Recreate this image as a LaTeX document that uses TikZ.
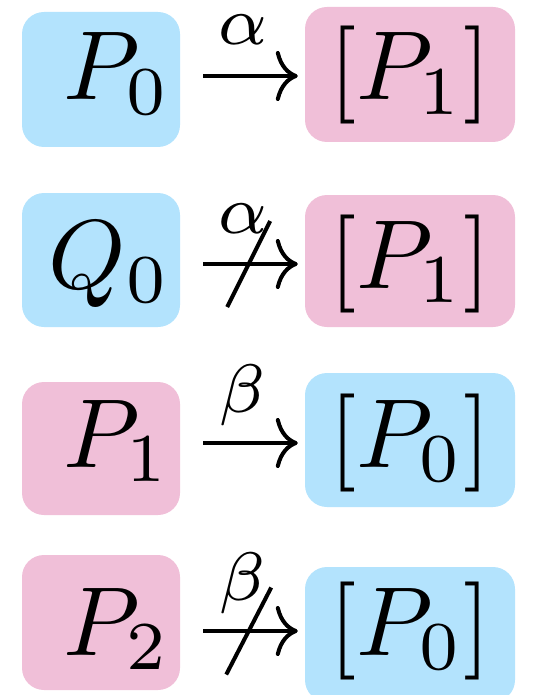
\documentclass[tikz,border=0pt]{standalone}
\usepackage{graphicx}
\usetikzlibrary{arrows.meta}
\definecolor{stateblue}{RGB}{179,227,253}
\definecolor{statepink}{RGB}{240,191,216}
% big math at the size of the figure
\newcommand{\bigmath}[1]{\scalebox{9.8}{$#1$}}
\tikzset{
    state/.style = {rectangle, rounded corners=22pt, draw=none, inner ysep=0pt,
                    anchor=base},
    source/.style = {state, minimum width=158pt, inner xsep=10pt,
                     text width=138pt, align=right},
    target/.style = {state, minimum width=210pt, inner xsep=0pt, align=center},
    arrow/.style = {line width=4pt, -{Computer Modern Rightarrow[length=22pt, width=50pt]},
                    shorten <=23pt, shorten >=7pt},
    act/.style = {anchor=base, yshift=31pt, inner sep=0pt},
    blocked/.style = {line width=4pt},
}
\begin{document}
\begin{tikzpicture}[x=1pt, y=-1pt]
\useasboundingbox (0,0) rectangle (534,695);

\node (l1) [source, fill=stateblue, text height=88pt, text depth=47pt] at (101,100) {\bigmath{P_0}};
\node (r1) [target, fill=statepink, text height=93pt, text depth=42pt] at (410,100) {\bigmath{[P_1]}};
\node (l2) [source, fill=stateblue, text height=95pt, text depth=39pt] at (101,288) {\bigmath{Q_0}};
\node (r2) [target, fill=statepink, text height=93pt, text depth=39pt] at (410,288) {\bigmath{[P_1]}};
\node (l3) [source, fill=statepink, text height=85pt, text depth=48pt] at (101,467) {\bigmath{P_1}};
\node (r3) [target, fill=stateblue, text height=94pt, text depth=40pt] at (410,467) {\bigmath{[P_0]}};
\node (l4) [source, fill=statepink, text height=100pt, text depth=35pt] at (101,655) {\bigmath{P_2}};
\node (r4) [target, fill=stateblue, text height=88pt, text depth=47pt] at (410,655) {\bigmath{[P_0]}};

% Arrows
\draw[arrow] (l1.east |- 0,76) -- node[act] {\bigmath{\scriptstyle\alpha}} (r1.west |- 0,76);
\draw[arrow] (l2.east |- 0,264) -- node[act] {\bigmath{\scriptstyle\alpha}} coordinate[pos=.55] (x2) (r2.west |- 0,264);
\draw[arrow] (l3.east |- 0,443) -- node[act] {\bigmath{\scriptstyle\beta}} (r3.west |- 0,443);
\draw[arrow] (l4.east |- 0,631) -- node[act] {\bigmath{\scriptstyle\beta}} coordinate[pos=.55] (x4) (r4.west |- 0,631);

% Negations
\draw[blocked] ([shift={(-21.5,43)}]x2) -- ([shift={(21.5,-43)}]x2);
\draw[blocked] ([shift={(-22.5,43.5)}]x4) -- ([shift={(22.5,-43.5)}]x4);
\end{tikzpicture}
\end{document}
